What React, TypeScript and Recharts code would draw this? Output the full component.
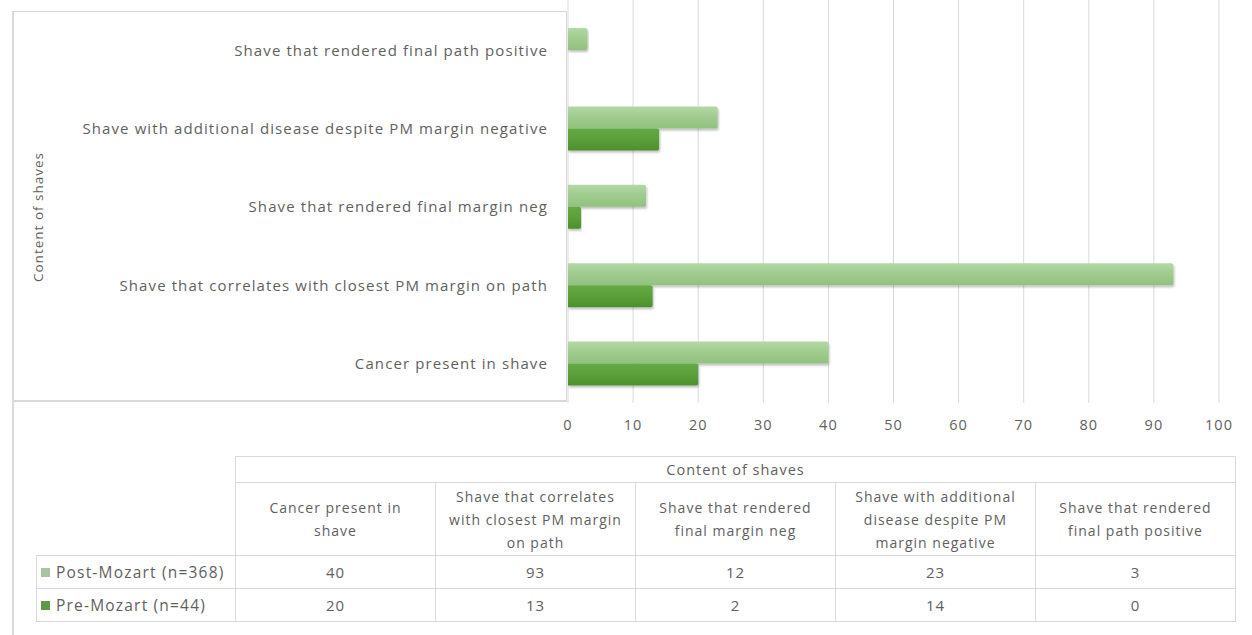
import React from 'react';
import { BarChart, Bar, XAxis, YAxis, CartesianGrid } from 'recharts';

const categories = [
  'Cancer present in shave',
  'Shave that correlates with closest PM margin on path',
  'Shave that rendered final margin neg',
  'Shave with additional disease despite PM margin negative',
  'Shave that rendered final path positive',
];
const postMozart = [40, 93, 12, 23, 3];
const preMozart = [20, 13, 2, 14, 0];
const seriesNames = ['Post-Mozart (n=368)', 'Pre-Mozart (n=44)'];
const xTicks = [0, 10, 20, 30, 40, 50, 60, 70, 80, 90, 100];
const axisTitle = 'Content of shaves';

const data = categories.map((c, i) => ({ name: c, post: postMozart[i], pre: preMozart[i] }));

const FONT = '"Open Sans", Lato, sans-serif';
const GREY = '#5f5f5f';
const BORDER = '#d9d9d9';

const YTitle = (props: any) => {
  const vb = props.viewBox || {};
  const x = (vb.x ?? 15) + 23;
  const y = 217;
  return (
    <text x={x} y={y} transform={`rotate(-90 ${x} ${y})`} textAnchor="middle" dominantBaseline="central" fill={GREY} fontSize={13.5} fontFamily={FONT} style={{ letterSpacing: '1px' }}>
      {axisTitle}
    </text>
  );
};

export default function App() {
  const cellBase: React.CSSProperties = {
    border: `1px solid ${BORDER}`,
    textAlign: 'center',
    color: GREY,
    fontSize: 14,
    letterSpacing: '1px',
    padding: '0 12px',
    boxSizing: 'border-box',
  };
  const swatch = (color: string) => (
    <span style={{ display: 'inline-block', width: 9, height: 9, background: color, marginRight: 6, verticalAlign: 'middle', position: 'relative', top: -1 }} />
  );
  return (
    <div style={{ position: 'absolute', left: 0, top: 0, width: 1252, height: 635, background: '#fff', fontFamily: FONT, overflow: 'hidden' }}>
      <BarChart
        width={1252}
        height={635}
        layout="vertical"
        data={data}
        margin={{ top: 0, right: 33, left: 15, bottom: 202 }}
        barCategoryGap="22%"
        barGap={0}
      >
        <defs>
          <linearGradient id="gPost" x1="0" y1="0" x2="0" y2="1">
            <stop offset="0%" stopColor="#b4d8a6" />
            <stop offset="45%" stopColor="#a0cc8f" />
            <stop offset="100%" stopColor="#92c17f" />
          </linearGradient>
          <linearGradient id="gPre" x1="0" y1="0" x2="0" y2="1">
            <stop offset="0%" stopColor="#64a944" />
            <stop offset="50%" stopColor="#5aa03a" />
            <stop offset="100%" stopColor="#4c8f2e" />
          </linearGradient>
          <filter id="shadow" x="-5%" y="-20%" width="110%" height="160%">
            <feDropShadow dx="1" dy="2" stdDeviation="1.2" floodColor="#000" floodOpacity="0.25" />
          </filter>
        </defs>
        <CartesianGrid horizontal={false} stroke={BORDER} strokeWidth={1} />
        <XAxis
          type="number"
          domain={[0, 100]}
          ticks={xTicks}
          axisLine={false}
          tickLine={false}
          tickSize={0}
          tickMargin={17}
          height={30}
          tick={{ fill: GREY, fontSize: 14.5, fontFamily: FONT, style: { letterSpacing: '1px' } }}
          interval={0}
        />
        <YAxis
          type="category"
          dataKey="name"
          reversed
          width={553}
          padding={{ top: 11, bottom: 0 }}
          axisLine={false}
          tickLine={false}
          tickSize={0}
          tickMargin={20}
          interval={0}
          tick={{ fill: GREY, fontSize: 15, fontFamily: FONT, style: { letterSpacing: '1.1px' } }}
          label={<YTitle />}
        />
        <Bar dataKey="post" name={seriesNames[0]} fill="url(#gPost)" barSize={22} radius={[0, 2, 2, 0]} filter="url(#shadow)" isAnimationActive={false} />
        <Bar dataKey="pre" name={seriesNames[1]} fill="url(#gPre)" barSize={22} radius={[0, 2, 2, 0]} filter="url(#shadow)" isAnimationActive={false} />
      </BarChart>

      {/* label box frame */}
      <div style={{ position: 'absolute', left: 13, top: 11, width: 554, height: 391, borderTop: `1px solid ${BORDER}`, borderRight: `1px solid ${BORDER}`, borderBottom: `2px solid ${BORDER}`, boxSizing: 'border-box' }} />
      <div style={{ position: 'absolute', left: 12, top: 11, width: 2, height: 624, background: BORDER }} />

      {/* data table */}
      <table style={{ position: 'absolute', left: 36, top: 456, borderCollapse: 'collapse', tableLayout: 'fixed', fontFamily: FONT }}>
        <colgroup>
          <col style={{ width: 199 }} />
          {categories.map((c) => (
            <col key={c} style={{ width: 200 }} />
          ))}
        </colgroup>
        <tbody>
          <tr style={{ height: 26 }}>
            <td style={{ border: 'none' }} />
            <td colSpan={5} style={{ ...cellBase, lineHeight: '20px', fontSize: 14.5 }}>{axisTitle}</td>
          </tr>
          <tr style={{ height: 73 }}>
            <td style={{ border: 'none', borderRight: `1px solid ${BORDER}` }} />
            {categories.map((c) => (
              <td key={c} style={{ ...cellBase, lineHeight: '23px', padding: '0 10px' }}>{c}</td>
            ))}
          </tr>
          <tr style={{ height: 33 }}>
            <td style={{ ...cellBase, textAlign: 'left', padding: '0 4px', fontSize: 15.5, letterSpacing: '1.2px' }}>{swatch('#a9c49d')}{seriesNames[0]}</td>
            {postMozart.map((v, i) => (
              <td key={i} style={{ ...cellBase, fontSize: 15 }}>{v}</td>
            ))}
          </tr>
          <tr style={{ height: 33 }}>
            <td style={{ ...cellBase, textAlign: 'left', padding: '0 4px', fontSize: 15.5, letterSpacing: '1.2px' }}>{swatch('#5f9a48')}{seriesNames[1]}</td>
            {preMozart.map((v, i) => (
              <td key={i} style={{ ...cellBase, fontSize: 15 }}>{v}</td>
            ))}
          </tr>
        </tbody>
      </table>
    </div>
  );
}
